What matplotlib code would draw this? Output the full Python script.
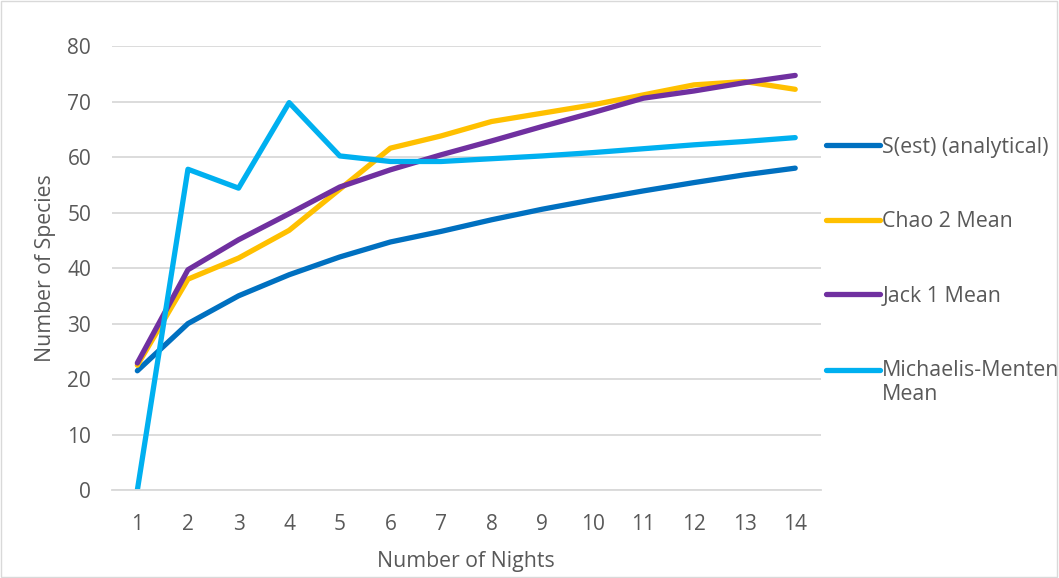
import numpy as np
import matplotlib.pyplot as plt
from matplotlib.legend_handler import HandlerLine2D

plt.rcParams['font.family'] = ['Open Sans', 'DejaVu Sans']

# Species accumulation estimates by number of sampling nights
nights = list(range(1, 15))
s_est = [21.5, 30.0, 35.0, 38.8, 42.0, 44.7, 46.6, 48.7, 50.6, 52.3, 53.9, 55.4, 56.8, 58.0]
chao2 = [22.5, 38.0, 41.8, 46.8, 54.2, 61.6, 63.8, 66.4, 67.9, 69.4, 71.2, 73.0, 73.6, 72.2]
jack1 = [22.9, 39.7, 45.1, 49.8, 54.6, 57.7, 60.4, 62.9, 65.5, 68.0, 70.6, 71.9, 73.4, 74.7]
mm_mean = [0.0, 57.8, 54.4, 69.8, 60.2, 59.2, 59.2, 59.7, 60.2, 60.8, 61.5, 62.2, 62.8, 63.5]

series = [
    ("S(est) (analytical)", s_est, "#0070C0"),
    ("Chao 2 Mean", chao2, "#FFC000"),
    ("Jack 1 Mean", jack1, "#7030A0"),
    ("Michaelis-Menten\nMean", mm_mean, "#00B0F0"),
]


# legend handle lifted to sit on the first line of a two-line label
class FirstLineHandler(HandlerLine2D):
    def __init__(self, dy, **kw):
        super().__init__(**kw)
        self.dy = dy

    def create_artists(self, legend, orig_handle, xdescent, ydescent,
                       width, height, fontsize, trans):
        return super().create_artists(legend, orig_handle, xdescent, ydescent - self.dy,
                                      width, height, fontsize, trans)


fig = plt.figure(figsize=(10.59, 5.78), dpi=100)
ax = fig.add_axes([0.1058, 0.152, 0.669, 0.7684])

lines = []
for label, vals, col in series:
    ln, = ax.plot(nights, vals, color=col, lw=3.8, label=label,
                  solid_capstyle='round', solid_joinstyle='round')
    lines.append(ln)

ax.set_xlim(0.5, 14.5)
ax.set_ylim(0, 80)
ax.set_yticks(range(0, 81, 10))
ax.set_xticks(nights)
ax.grid(axis='y', color='#D9D9D9', lw=1.3)
ax.set_axisbelow(True)
for s in ['top', 'right', 'left']:
    ax.spines[s].set_visible(False)
ax.spines['bottom'].set_color('#D9D9D9')
ax.spines['bottom'].set_linewidth(1.3)
ax.tick_params(axis='y', length=0, labelsize=15, colors='#595959', pad=15)
ax.tick_params(axis='x', length=0, labelsize=15, colors='#595959', pad=17)
ax.set_xlabel("Number of Nights", fontsize=15.3, color='#595959', labelpad=12)
ax.set_ylabel("Number of Species", fontsize=15.3, color='#595959', labelpad=8)

leg = ax.legend(loc='upper left', bbox_to_anchor=(0.995, 0.815), frameon=False,
                fontsize=15.4, handlelength=2.55, handletextpad=0.1,
                labelspacing=2.5, borderaxespad=0,
                handler_map={lines[3]: FirstLineHandler(18.7)})
for t in leg.get_texts():
    t.set_color('#595959')

# thin outer frame like the reference
fig.patches.append(plt.Rectangle((0.001, 0.002), 0.997, 0.996, transform=fig.transFigure,
                                 fill=False, edgecolor='#D9D9D9', lw=1))

fig.savefig("out.png", dpi=100)
